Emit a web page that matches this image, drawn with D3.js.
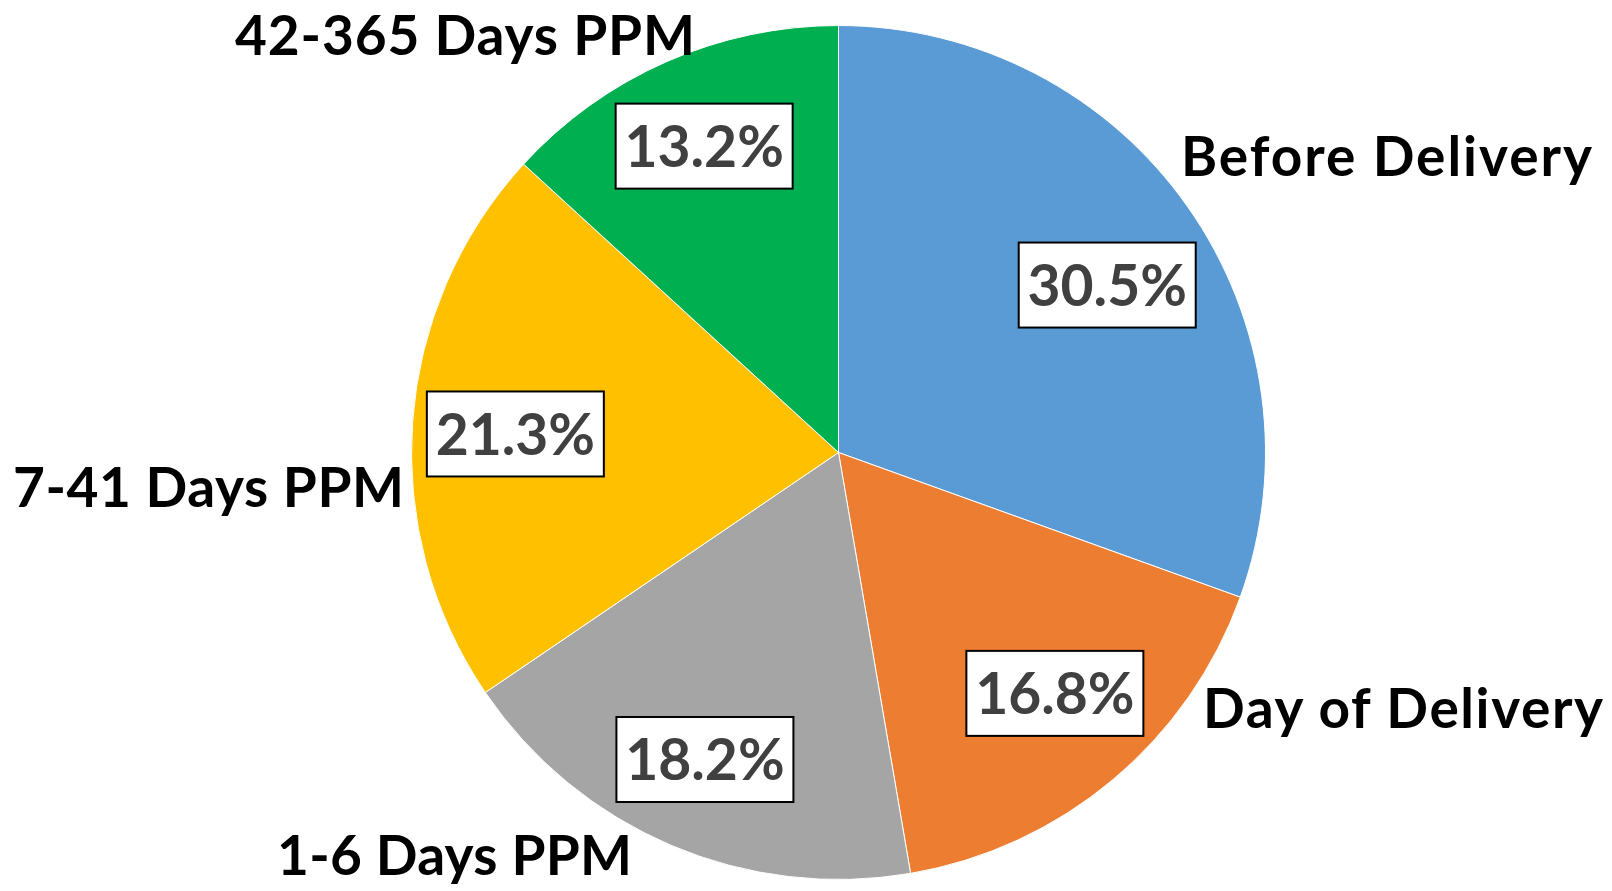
<!DOCTYPE html>
<html><head><meta charset="utf-8">
<script src="https://cdn.jsdelivr.net/npm/d3@7"></script>
<style>html,body{margin:0;padding:0;background:#fff;}svg{display:block;}</style>
</head><body>
<svg id="chart" width="1612" height="891"></svg>
<script>
const categories = ["Before Delivery", "Day of Delivery", "1-6 Days PPM", "7-41 Days PPM", "42-365 Days PPM"];
const values = [30.5, 16.8, 18.2, 21.3, 13.2];
const colors = ["#5B9BD5", "#ED7D31", "#A5A5A5", "#FFC000", "#00B050"];
const pctLabels = ["30.5%", "16.8%", "18.2%", "21.3%", "13.2%"];
// layout: category name anchors (left x, baseline y, width) and data label nudges
const catAnchor = [[1181, 176, 411], [1203, 728, 400], [277, 875, 355], [13, 507, 391], [235, 55, 460]];
const boxNudge = [[2, 20], [7, -9], [-6, 7], [2, 5], [-3, -8]];

const svg = d3.select("#chart");
const cx = 838.5, cy = 452.5, R = 427;
const g = svg.append("g").attr("transform", `translate(${cx},${cy})`);
const pie = d3.pie().sort(null).value(d => d)(values);
const arc = d3.arc().innerRadius(0).outerRadius(R);
g.selectAll("path.slice").data(pie).join("path")
  .attr("class","slice").attr("d", arc)
  .attr("fill", (d,i) => colors[i]).attr("stroke","#fff").attr("stroke-width",1);

const font = "Lato, 'Open Sans', sans-serif";
const labelArc = d3.arc().innerRadius(326).outerRadius(326);
const bw = 177, bh = 85;
const lg = g.selectAll("g.lbl").data(pie).join("g").attr("class","lbl")
  .attr("transform", (d,i) => { const c = labelArc.centroid(d); return `translate(${c[0]+boxNudge[i][0]},${c[1]+boxNudge[i][1]})`; });
lg.append("rect").attr("x",-bw/2).attr("y",-bh/2).attr("width",bw).attr("height",bh)
  .attr("fill","#fff").attr("stroke","#000").attr("stroke-width",2);
lg.append("text").text((d,i)=>pctLabels[i]).attr("text-anchor","middle").attr("y",21)
  .attr("font-family",font).attr("font-weight",700).attr("font-size",57).attr("fill","#404040");

svg.selectAll("text.cat").data(categories).join("text").attr("class","cat")
  .attr("x",(d,i)=>catAnchor[i][0]).attr("y",(d,i)=>catAnchor[i][1])
  .attr("textLength",(d,i)=>catAnchor[i][2])
  .attr("font-family",font).attr("font-weight",700).attr("font-size",55).attr("fill","#000")
  .text(d=>d);
</script>
</body></html>
